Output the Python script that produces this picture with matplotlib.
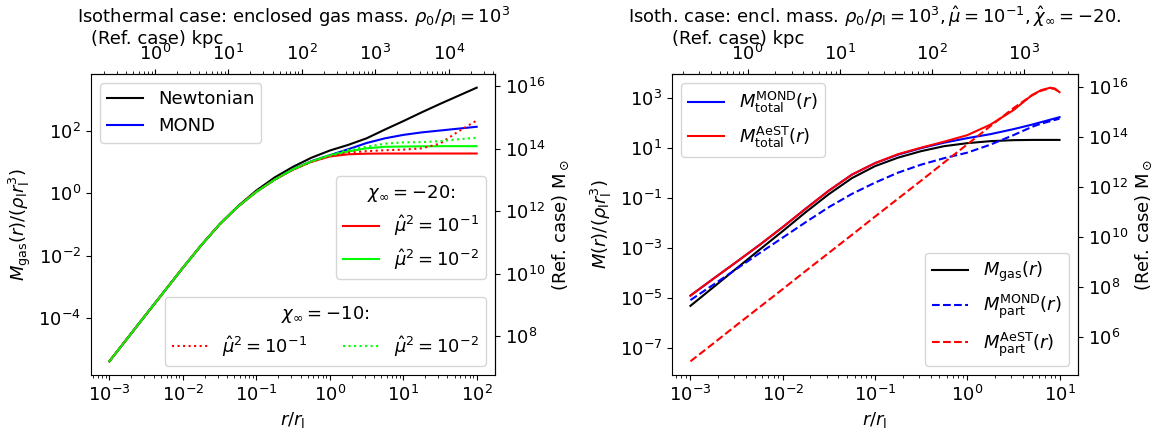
import matplotlib
matplotlib.use('Agg')
import matplotlib.pyplot as plt
import numpy as np

plt.rcParams['font.size'] = 13
plt.rcParams['mathtext.fontset'] = 'dejavusans'

# reference-case conversions: r_l in kpc, rho_l r_l^3 in solar masses
R_L_KPC = 240.0
M_UNIT_MSUN = 3.8e12

# ---- left panel: enclosed gas mass, log10 values ----
log_r_left = [-3, -2.5, -2, -1.75, -1.5, -1.25, -1, -0.75, -0.5, -0.25, 0,
              0.25, 0.5, 0.75, 1, 1.25, 1.5, 1.75, 2]
log_m_newton = [-5.38, -3.88, -2.39, -1.67, -1.0, -0.42, 0.08, 0.50, 0.84,
                1.13, 1.36, 1.54, 1.75, 2.03, 2.30, 2.58, 2.85, 3.11, 3.37]
log_m_mond = [-5.38, -3.88, -2.39, -1.67, -1.0, -0.43, 0.04, 0.43, 0.76,
              1.02, 1.21, 1.40, 1.60, 1.75, 1.86, 1.94, 2.00, 2.06, 2.12]
# chi_inf = -20
log_m_c20_mu1 = [-5.38, -3.88, -2.39, -1.67, -1.0, -0.43, 0.04, 0.43, 0.75,
                 1.0, 1.17, 1.24, 1.26, 1.265, 1.265, 1.265, 1.265, 1.265, 1.265]
log_m_c20_mu2 = [-5.38, -3.88, -2.39, -1.67, -1.0, -0.43, 0.04, 0.43, 0.76,
                 1.01, 1.2, 1.33, 1.43, 1.48, 1.49, 1.495, 1.5, 1.5, 1.5]
# chi_inf = -10
log_m_c10_mu1 = [-5.38, -3.88, -2.39, -1.67, -1.0, -0.43, 0.04, 0.43, 0.75,
                 1.0, 1.18, 1.29, 1.34, 1.37, 1.39, 1.43, 1.58, 1.97, 2.32]
log_m_c10_mu2 = [-5.38, -3.88, -2.39, -1.67, -1.0, -0.43, 0.04, 0.43, 0.76,
                 1.02, 1.22, 1.38, 1.48, 1.58, 1.62, 1.63, 1.66, 1.72, 1.77]

# ---- right panel: total and partial masses, log10 values ----
log_r_right = [-3, -2.75, -2.5, -2.25, -2, -1.75, -1.5, -1.25, -1, -0.75, -0.5,
               -0.25, 0, 0.25, 0.5, 0.7, 0.8, 0.9, 0.95, 1.0]
log_m_gas = [-5.33, -4.58, -3.83, -3.08, -2.34, -1.58, -0.86, -0.22, 0.26,
             0.6, 0.86, 1.06, 1.18, 1.26, 1.3, 1.31, 1.31, 1.31, 1.31, 1.31]
log_m_tot_mond = [-4.92, -4.24, -3.57, -2.89, -2.18, -1.44, -0.72, -0.08, 0.38,
                  0.72, 0.98, 1.2, 1.38, 1.54, 1.74, 1.92, 2.02, 2.12, 2.17, 2.22]
log_m_tot_aest = [-4.92, -4.24, -3.57, -2.89, -2.18, -1.44, -0.72, -0.08, 0.38,
                  0.74, 1.0, 1.24, 1.5, 1.92, 2.5, 3.1, 3.3, 3.4, 3.36, 3.22]
log_m_part_mond = [-5.1, -4.48, -3.85, -3.22, -2.6, -1.98, -1.38, -0.85, -0.4,
                   0.0, 0.32, 0.58, 0.8, 1.12, 1.5, 1.83, 1.96, 2.06, 2.11, 2.16]
log_m_part_aest = [-7.55, -6.83, -6.1, -5.38, -4.66, -3.93, -3.21, -2.49, -1.76,
                   -1.04, -0.32, 0.41, 1.13, 1.86, 2.58, 3.09, 3.28, 3.38, 3.35, 3.21]


def lin(v):
    return 10.0 ** np.array(v)


fig = plt.figure(figsize=(11.58, 4.28), dpi=100)
ax1 = fig.add_axes([0.0786, 0.1238, 0.3489, 0.7033])
ax2 = fig.add_axes([0.5803, 0.1238, 0.3506, 0.7033])

# left panel
r = lin(log_r_left)
l_newt, = ax1.loglog(r, lin(log_m_newton), color='black', label='Newtonian')
l_mond, = ax1.loglog(r, lin(log_m_mond), color='blue', label='MOND')
a1, = ax1.loglog(r, lin(log_m_c20_mu1), color='red', label=r'$\hat{\mu}^2 = 10^{-1}$')
a2, = ax1.loglog(r, lin(log_m_c20_mu2), color='lime', label=r'$\hat{\mu}^2 = 10^{-2}$')
b1, = ax1.loglog(r, lin(log_m_c10_mu1), color='red', ls=':', label=r'$\hat{\mu}^2 = 10^{-1}$')
b2, = ax1.loglog(r, lin(log_m_c10_mu2), color='lime', ls=':', label=r'$\hat{\mu}^2 = 10^{-2}$')

leg1 = ax1.legend(handles=[l_newt, l_mond], loc='upper left')
ax1.add_artist(leg1)
leg2 = ax1.legend(handles=[a1, a2], title=r'$\chi_\infty = -20$:',
                  loc='center right', bbox_to_anchor=(1.0, 0.49))
ax1.add_artist(leg2)
ax1.legend(handles=[b1, b2], title=r'$\chi_\infty = -10$:', ncol=2,
           loc='lower right')

ax1.set_xlabel(r'$r/r_{\rm l}$')
ax1.set_ylabel(r'$M_{\rm gas}(r)/(\rho_{\rm l}r_{\rm l}^3)$')
ax1.set_title(r'Isothermal case: enclosed gas mass. $\rho_0/\rho_{\rm l} = 10^3$',
              pad=37, fontsize=13)

# right panel
r = lin(log_r_right)
m1, = ax2.loglog(r, lin(log_m_tot_mond), color='blue',
                 label=r'$M^{\rm MOND}_{\rm total}(r)$')
m2, = ax2.loglog(r, lin(log_m_tot_aest), color='red',
                 label=r'$M^{\rm AeST}_{\rm total}(r)$')
m3, = ax2.loglog(r, lin(log_m_gas), color='black', label=r'$M_{\rm gas}(r)$')
m4, = ax2.loglog(r, lin(log_m_part_mond), color='blue', ls='--',
                 label=r'$M^{\rm MOND}_{\rm part}(r)$')
m5, = ax2.loglog(r, lin(log_m_part_aest), color='red', ls='--',
                 label=r'$M^{\rm AeST}_{\rm part}(r)$')

leg3 = ax2.legend(handles=[m1, m2], loc='upper left')
ax2.add_artist(leg3)
ax2.legend(handles=[m3, m4, m5], loc='lower right')

ax2.set_xlabel(r'$r/r_{\rm l}$')
ax2.set_ylabel(r'$M(r)/(\rho_{\rm l}r_{\rm l}^3)$')
ax2.set_title(r'Isoth. case: encl. mass. $\rho_0/\rho_{\rm l} = 10^3, \hat{\mu} = 10^{-1}, '
              r'\hat{\chi}_\infty = -20$.', pad=37, fontsize=13)

# secondary axes in physical units of the reference case
for ax in (ax1, ax2):
    top = ax.secondary_xaxis('top', functions=(lambda x: x * R_L_KPC,
                                               lambda x: x / R_L_KPC))
    top.set_xlabel('(Ref. case) kpc', loc='left', labelpad=0)
    right = ax.secondary_yaxis('right', functions=(lambda m: m * M_UNIT_MSUN,
                                                   lambda m: m / M_UNIT_MSUN))
    right.set_ylabel(r'(Ref. case) M$_\odot$')

fig.savefig('out.png', dpi=100)
